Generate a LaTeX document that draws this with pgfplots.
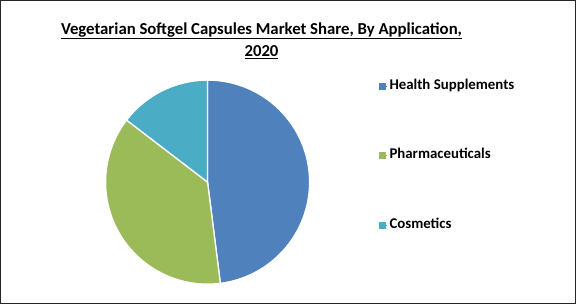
\documentclass[border=0pt]{standalone}
\usepackage{pgfplots}
\usepackage{pgfplotstable}
\usepackage{fontspec}
\setmainfont{Carlito}
\pgfplotsset{compat=1.18}
\definecolor{cHS}{HTML}{4F81BD}
\definecolor{cPH}{HTML}{9BBB59}
\definecolor{cCO}{HTML}{4BACC6}
\pgfplotstableread{
share
48.0
37.4
14.6
}\sharetable
\begin{document}
\begin{tikzpicture}[x=1bp,y=1bp]
\draw[line width=1.4bp, black!85] (0.7,0.7) rectangle (575.3,303.3);
\node[font=\bfseries\fontsize{16.8}{22}\selectfont, align=center] at (261.5,263.5)
  {\underline{Vegetarian Softgel Capsules Market Share, By Application,}\\\underline{2020}};
\pgfplotstablegetelem{0}{share}\of\sharetable \let\vA\pgfplotsretval
\pgfplotstablegetelem{1}{share}\of\sharetable \let\vB\pgfplotsretval
\pgfplotstablegetelem{2}{share}\of\sharetable \let\vC\pgfplotsretval
\pgfmathsetmacro\aA{90}
\pgfmathsetmacro\aB{90-3.6*\vA}
\pgfmathsetmacro\aC{\aB-3.6*\vB}
\pgfmathsetmacro\aD{\aC-3.6*\vC}
\begin{axis}[
  at={(203.5,119.5)}, anchor=origin,
  scale only axis, width=204bp, height=204bp,
  xmin=-1, xmax=1, ymin=-1, ymax=1,
  hide axis, clip=false,
  legend style={at={(1.34,1.014)}, anchor=north west, draw=none, fill=none,
    font=\bfseries\fontsize{14.9}{17}\selectfont, row sep=52.5bp, inner sep=0pt,
    nodes={text height=10bp, text depth=3bp},
    cells={anchor=west}},
  legend cell align=left,
  legend image code/.code={\fill[#1] (0bp,-3bp) rectangle (6bp,3bp); \path (0bp,0bp) -- (8bp,0bp);},
]
\addlegendimage{cHS}
\addlegendentry{Health Supplements}
\addlegendimage{cPH}
\addlegendentry{Pharmaceuticals}
\addlegendimage{cCO}
\addlegendentry{Cosmetics}
\filldraw[fill=cHS, draw=white, line width=1.3bp] (axis cs:0,0) -- (axis cs:{cos(\aA)},{sin(\aA)}) arc[start angle=\aA, end angle=\aB, radius=102bp] -- cycle;
\filldraw[fill=cPH, draw=white, line width=1.3bp] (axis cs:0,0) -- (axis cs:{cos(\aB)},{sin(\aB)}) arc[start angle=\aB, end angle=\aC, radius=102bp] -- cycle;
\filldraw[fill=cCO, draw=white, line width=1.3bp] (axis cs:0,0) -- (axis cs:{cos(\aC)},{sin(\aC)}) arc[start angle=\aC, end angle=\aD, radius=102bp] -- cycle;
\end{axis}
\end{tikzpicture}
\end{document}
